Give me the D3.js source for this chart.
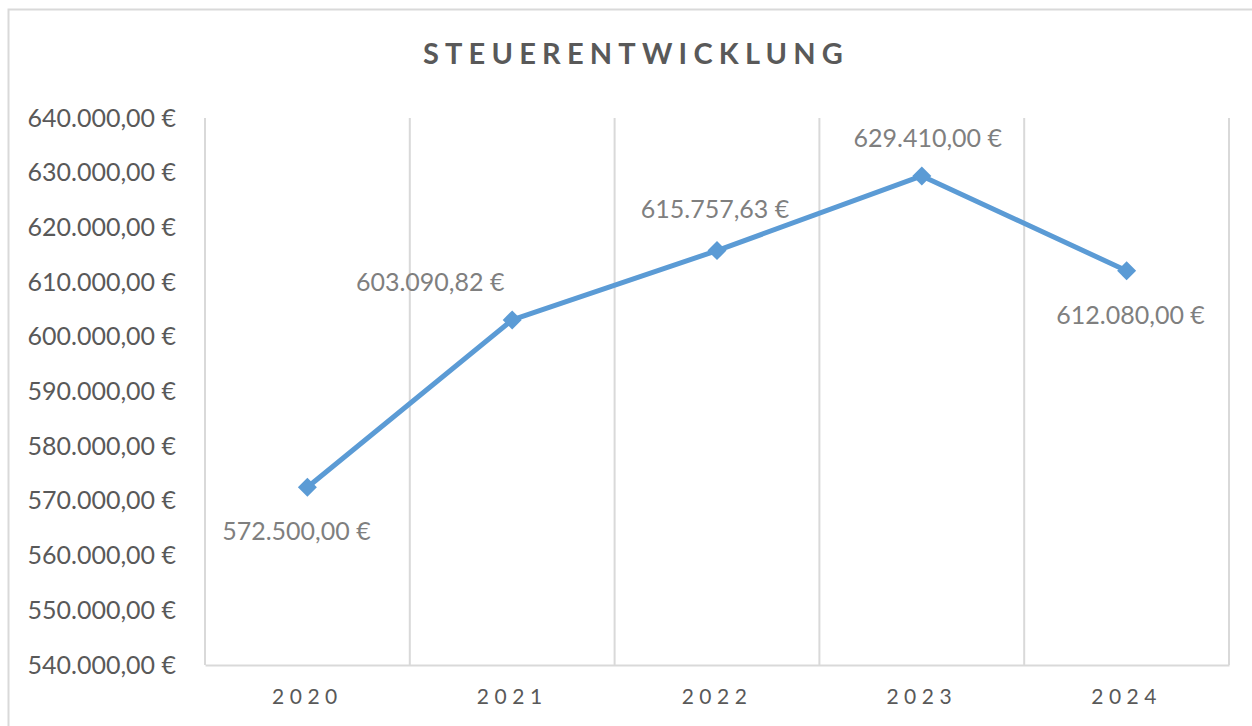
<!DOCTYPE html>
<html>
<head>
<meta charset="utf-8">
<script src="https://cdn.jsdelivr.net/npm/d3@7"></script>
<style>
  body { margin: 0; background: #fff; }
</style>
</head>
<body>
<svg id="chart" width="1252" height="726"></svg>
<script>
// data
const years = ["2020", "2021", "2022", "2023", "2024"];
const taxes = [572500.00, 603090.82, 615757.63, 629410.00, 612080.00];
const yTicks = [540000, 550000, 560000, 570000, 580000, 590000, 600000, 610000, 620000, 630000, 640000];

// label placement, relative to each point (Excel labels were dragged by hand)
const labelOffsets = [[-11, 44], [-82, -38], [-2, -41], [6, -38], [4, 45]];

const font = "Lato, 'Open Sans', sans-serif";

const de = d3.formatLocale({
  decimal: ",",
  thousands: ".",
  grouping: [3],
  currency: ["", " €"]
});
const fmt = de.format("$,.2f");

const svg = d3.select("#chart");

// outer chart border
svg.append("rect")
  .attr("x", 8.5).attr("y", 9.5)
  .attr("width", 1300).attr("height", 800)
  .attr("fill", "none")
  .attr("stroke", "#d9d9d9")
  .attr("stroke-width", 2);

const plot = {left: 205, right: 1229, top: 118, bottom: 665};

const x = d3.scaleBand()
  .domain(years)
  .range([plot.left, plot.right]);

const y = d3.scaleLinear()
  .domain([540000, 640000])
  .range([plot.bottom, plot.top]);

// vertical gridlines at category boundaries
let edges = years.map(d => x(d));
edges.push(plot.right);
svg.append("g")
  .selectAll("line")
  .data(edges)
  .join("line")
  .attr("x1", d => d).attr("x2", d => d)
  .attr("y1", plot.top).attr("y2", plot.bottom)
  .attr("stroke", "#d9d9d9")
  .attr("stroke-width", 2);

// bottom axis
const xAxis = svg.append("g")
  .attr("transform", `translate(0,${plot.bottom})`)
  .call(d3.axisBottom(x).tickSize(0).tickPadding(24));
xAxis.select(".domain").attr("stroke", "#d9d9d9").attr("stroke-width", 2);
xAxis.selectAll("text")
  .style("font-family", font)
  .style("font-size", "21px")
  .style("letter-spacing", "5.5px")
  .attr("fill", "#595959");

// left axis (labels only)
const yAxis = svg.append("g")
  .attr("transform", `translate(${plot.left},0)`)
  .call(d3.axisLeft(y).tickValues(yTicks).tickFormat(fmt).tickSize(0).tickPadding(29));
yAxis.select(".domain").remove();
yAxis.selectAll("text")
  .style("font-family", font)
  .style("font-size", "25px")
  .attr("fill", "#595959");

// title
svg.append("text")
  .attr("x", 636)
  .attr("y", 57)
  .attr("text-anchor", "middle")
  .attr("dominant-baseline", "middle")
  .text("STEUERENTWICKLUNG")
  .style("font-family", font)
  .style("font-weight", "bold")
  .style("font-size", "29px")
  .style("letter-spacing", "6.2px")
  .attr("fill", "#595959");

const pts = years.map((d, i) => ({year: d, value: taxes[i], off: labelOffsets[i]}));
const cx = d => x(d.year) + x.bandwidth() / 2;

// line
svg.append("path")
  .datum(pts)
  .attr("fill", "none")
  .attr("stroke", "#5b9bd5")
  .attr("stroke-width", 5)
  .attr("stroke-linejoin", "round")
  .attr("d", d3.line().x(cx).y(d => y(d.value)));

// diamond markers
svg.append("g")
  .selectAll("path")
  .data(pts)
  .join("path")
  .attr("transform", d => `translate(${cx(d)},${y(d.value)})`)
  .attr("d", d3.symbol(d3.symbolDiamond2, 230))
  .attr("fill", "#5b9bd5");

// data labels
svg.append("g")
  .selectAll("text")
  .data(pts)
  .join("text")
  .attr("x", d => cx(d) + d.off[0])
  .attr("y", d => y(d.value) + d.off[1])
  .attr("dy", "0.35em")
  .attr("text-anchor", "middle")
  .text(d => fmt(d.value))
  .style("font-family", font)
  .style("font-size", "25px")
  .attr("fill", "#7f7f7f");
</script>
</body>
</html>
